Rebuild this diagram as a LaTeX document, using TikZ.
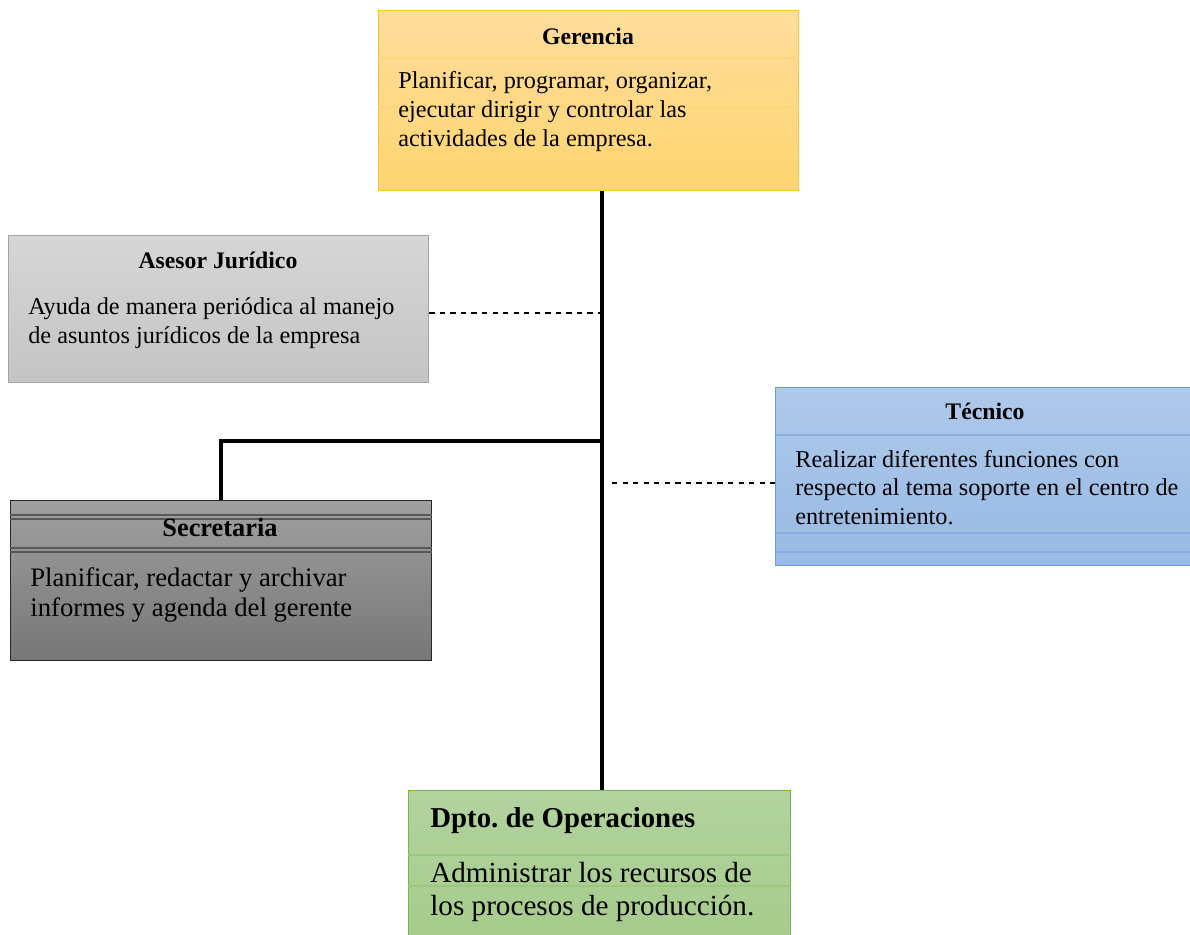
\documentclass[tikz,border=0pt]{standalone}
\usepackage{fontspec}
\setmainfont{Liberation Serif}
\definecolor{gerTop}{RGB}{255,221,156}
\definecolor{gerBot}{RGB}{255,213,112}
\definecolor{gerLine}{RGB}{255,196,40}
\definecolor{aseTop}{RGB}{214,214,214}
\definecolor{aseBot}{RGB}{196,196,196}
\definecolor{aseLine}{RGB}{165,165,165}
\definecolor{secTop}{RGB}{160,160,160}
\definecolor{secBot}{RGB}{118,118,118}
\definecolor{secLine}{RGB}{40,40,40}
\definecolor{tecTop}{RGB}{174,200,234}
\definecolor{tecBot}{RGB}{152,186,228}
\definecolor{tecLine}{RGB}{108,156,216}
\definecolor{opsTop}{RGB}{178,211,158}
\definecolor{opsBot}{RGB}{166,204,140}
\definecolor{opsLine}{RGB}{120,180,80}
\tikzset{
  box/.style={draw, line width=0.8pt, anchor=north west, inner sep=0pt},
  head/.style={inner sep=0pt, font=\bfseries\fontsize{13.5}{16}\selectfont},
  body/.style={anchor=north west, align=left, inner sep=0pt,
    font=\fontsize{13.8}{16.4}\selectfont},
  trunk/.style={line width=2pt},
  link/.style={dashed, line width=0.6pt},
  strip/.style={line width=1.2pt}
}
\begin{document}
\begin{tikzpicture}[x=0.02cm,y=-0.02cm]
  \useasboundingbox (0,0) rectangle (1190,935);
  % boxes
  \node[box, gerLine, top color=gerTop, bottom color=gerBot,
    minimum width=8.4cm, minimum height=3.6cm] (ger) at (378,10) {};
  \node[box, aseLine, top color=aseTop, bottom color=aseBot,
    minimum width=8.4cm, minimum height=2.94cm] (ase) at (8,235) {};
  \node[box, secLine, top color=secTop, bottom color=secBot,
    minimum width=8.42cm, minimum height=3.2cm] (sec) at (10,500) {};
  \node[box, tecLine, top color=tecTop, bottom color=tecBot,
    minimum width=8.3cm, minimum height=3.56cm] (tec) at (775,387) {};
  \node[box, opsLine, top color=opsTop, bottom color=opsBot,
    minimum width=7.64cm, minimum height=2.9cm] (ops) at (408,790) {};
  % strips
  \draw[strip, gerTop!70!gerLine] (ger.west |- 0,58) -- (ger.east |- 0,58);
  \draw[strip, gerTop!70!gerLine] (ger.west |- 0,107) -- (ger.east |- 0,107);
  \draw[strip, secLine!60!secTop] (sec.west |- 0,515) -- (sec.east |- 0,515);
  \draw[strip, secLine!60!secTop] (sec.west |- 0,519) -- (sec.east |- 0,519);
  \draw[strip, secLine!60!secTop] (sec.west |- 0,548) -- (sec.east |- 0,548);
  \draw[strip, secLine!60!secTop] (sec.west |- 0,552) -- (sec.east |- 0,552);
  \draw[strip, tecLine!60!tecTop] (tec.west |- 0,435) -- (tec.east |- 0,435);
  \draw[strip, tecLine!60!tecTop] (tec.west |- 0,533) -- (tec.east |- 0,533);
  \draw[strip, tecLine!60!tecTop] (tec.west |- 0,552) -- (tec.east |- 0,552);
  \draw[strip, opsLine!40!opsTop] (ops.west |- 0,855) -- (ops.east |- 0,855);
  \draw[strip, opsLine!40!opsTop] (ops.west |- 0,886) -- (ops.east |- 0,886);
  % titles
  \node[head] (gerT) at (588,36) {Gerencia};
  \node[head] (aseT) at (218,260) {Asesor Jurídico};
  \node[head, font=\bfseries\fontsize{15}{18}\selectfont] (secT) at (220,527) {Secretaria};
  \node[head] (tecT) at (985,411) {Técnico};
  \node[head, anchor=west, font=\bfseries\fontsize{16.4}{19}\selectfont] (opsT) at (430,821) {Dpto.\ de Operaciones};
  % texts
  \node[body] (gerB) at (398,71) {Planificar, programar, organizar,\\ejecutar dirigir y controlar las\\actividades de la empresa.};
  \node[body] (aseB) at (28,297) {Ayuda de manera periódica al manejo\\de asuntos jurídicos de la empresa};
  \node[body, font=\fontsize{15.2}{17}\selectfont] (secB) at (30,567) {Planificar, redactar y archivar\\informes y agenda del gerente};
  \node[body, font=\fontsize{13.8}{16.2}\selectfont] (tecB) at (795,450) {Realizar diferentes funciones con\\respecto al tema soporte en el centro de\\entretenimiento.};
  \node[body, font=\fontsize{16.6}{18.7}\selectfont] (opsB) at (430,862) {Administrar los recursos de\\los procesos de producción.};
  % connectors
  \coordinate (jn) at (602,441);
  \coordinate (tl) at (612,483);
  \draw[trunk] (ger.south -| jn) -- (ops.north -| jn);
  \draw[trunk] (jn) -| (sec.north);
  \draw[link] (ase.east |- 0,313) -- (jn |- 0,313);
  \draw[link] (tl) -- (tl -| tec.west);
\end{tikzpicture}
\end{document}
